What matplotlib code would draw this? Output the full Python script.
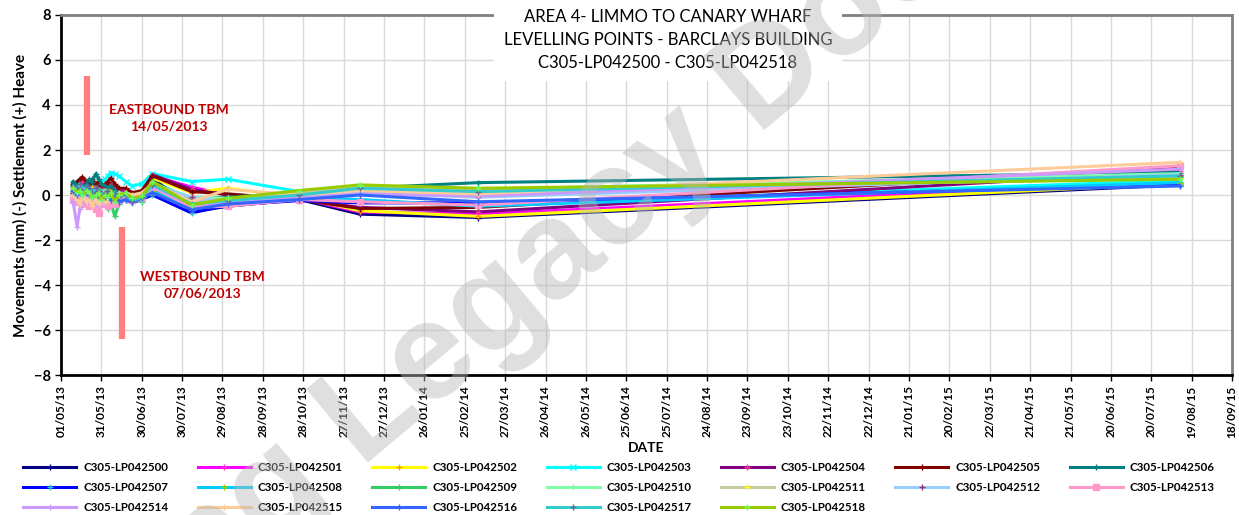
import datetime as dt

import matplotlib
matplotlib.use("Agg")
import matplotlib.dates as mdates
import matplotlib.pyplot as plt

# reading dates
dates = [
    "2013-05-10", "2013-05-13", "2013-05-15", "2013-05-17", "2013-05-20",
    "2013-05-22", "2013-05-24", "2013-05-27", "2013-05-29", "2013-05-31",
    "2013-06-03", "2013-06-05", "2013-06-07", "2013-06-10", "2013-06-13",
    "2013-06-18", "2013-06-23", "2013-06-30", "2013-07-08", "2013-08-06",
    "2013-09-02", "2013-10-25", "2013-12-09", "2014-03-07", "2015-08-10",
]

point_names = ["C305-LP0425%02d" % i for i in range(19)]

# movements (mm), one list per levelling point
lp500 = [0.1, 0.3, 0.2, 0.4, 0.3, 0.2, 0.5, 0.3, 0.2, 0.4, 0.3, 0.1, 0.2, 0.1, 0.0, 0.1, -0.3, -0.1, 0.8, -0.75, -0.5, -0.2, -0.85, -1.0, 0.45]
lp501 = [0.3, 0.2, 0.4, 0.5, 0.3, 0.4, 0.2, 0.4, 0.3, 0.5, 0.2, 0.3, 0.4, 0.2, 0.1, 0.2, -0.1, 0.0, 0.85, 0.35, 0.0, -0.15, -0.75, -0.85, 0.6]
lp502 = [0.2, 0.1, 0.3, 0.2, 0.4, 0.1, 0.3, 0.2, 0.1, 0.3, 0.2, 0.0, 0.2, 0.1, 0.2, 0.0, -0.2, -0.1, 0.75, 0.1, 0.3, -0.1, -0.7, -0.95, 0.5]
lp503 = [0.3, 0.4, 0.2, 0.5, 0.3, 0.4, 0.3, 0.5, 0.4, 0.6, 0.7, 0.85, 1.0, 0.95, 0.85, 0.6, 0.4, 0.5, 0.95, 0.6, 0.7, 0.15, -0.3, -0.45, 0.65]
lp504 = [0.4, 0.5, 0.3, 0.6, 0.4, 0.5, 0.4, 0.3, 0.5, 0.4, 0.3, 0.4, 0.5, 0.3, 0.2, 0.1, 0.0, 0.1, 0.9, 0.25, 0.0, -0.2, -0.55, -0.75, 1.05]
lp505 = [0.5, 0.6, 0.7, 0.8, 0.6, 0.5, 0.7, 0.5, 0.6, 0.4, 0.5, 0.6, 0.75, 0.5, 0.3, 0.3, 0.1, 0.2, 0.85, 0.15, 0.05, -0.2, -0.6, -0.55, 1.2]
lp506 = [0.6, 0.4, 0.5, 0.3, 0.5, 0.7, 0.6, 0.95, 0.7, 0.5, 0.4, 0.3, 0.4, 0.2, 0.1, 0.0, -0.2, -0.1, 0.6, -0.2, -0.1, 0.1, 0.3, 0.55, 1.0]
lp507 = [0.2, 0.1, 0.3, 0.2, 0.1, 0.3, 0.2, 0.0, 0.2, 0.1, 0.0, -0.1, 0.1, -0.2, -0.1, -0.2, -0.35, -0.2, 0.0, -0.8, -0.45, -0.25, -0.35, -0.35, 0.45]
lp508 = [0.0, 0.2, 0.1, 0.3, 0.0, 0.2, 0.1, 0.3, 0.0, 0.2, 0.1, 0.0, -0.1, 0.0, -0.2, -0.1, -0.3, -0.2, 0.2, -0.6, -0.3, -0.1, -0.2, -0.5, 0.55]
lp509 = [0.1, 0.0, 0.2, -0.1, 0.1, 0.0, -0.3, 0.1, -0.2, 0.0, -0.4, -0.6, -0.3, -0.95, -0.4, -0.2, -0.1, -0.3, 0.3, -0.5, -0.2, 0.0, 0.2, 0.1, 0.8]
lp510 = [0.3, 0.2, 0.4, 0.1, 0.3, 0.2, 0.0, 0.2, 0.1, -0.1, 0.2, 0.0, 0.1, -0.2, 0.1, 0.0, -0.2, -0.2, 0.5, -0.1, -0.15, 0.1, 0.35, 0.25, 0.95]
lp511 = [0.2, 0.3, 0.1, 0.2, 0.0, 0.1, 0.3, 0.1, 0.2, 0.0, 0.1, 0.2, 0.0, 0.1, 0.0, 0.1, -0.1, 0.0, 0.55, -0.3, -0.2, 0.1, 0.4, 0.2, 0.75]
lp512 = [0.1, -0.1, 0.0, 0.2, -0.2, 0.0, 0.1, -0.1, 0.0, -0.2, 0.1, -0.1, 0.0, -0.1, -0.2, 0.0, -0.2, -0.1, 0.45, -0.1, -0.3, -0.05, 0.1, -0.1, 0.9]
lp513 = [-0.2, -0.3, -0.1, -0.4, -0.2, -0.5, -0.3, -0.6, -0.8, -0.4, -0.2, -0.5, -0.3, -0.4, -0.2, -0.1, -0.2, -0.1, 0.35, -0.55, -0.5, -0.2, -0.3, -0.45, 1.3]
lp514 = [-0.3, -1.4, -0.6, -0.4, -0.2, -0.3, -0.1, -0.3, -0.5, -0.2, -0.3, -0.1, -0.2, 0.0, -0.1, 0.0, -0.1, 0.0, 0.4, -0.45, -0.35, -0.1, 0.05, -0.05, 1.15]
lp515 = [0.0, -0.2, -0.4, -0.1, -0.3, -0.1, -0.5, -0.2, -0.4, -0.1, -0.3, -0.2, 0.0, -0.3, -0.1, 0.1, 0.0, 0.1, 0.5, -0.3, 0.25, 0.0, 0.2, 0.05, 1.45]
lp516 = [0.2, 0.0, 0.1, 0.3, 0.1, 0.0, 0.2, 0.1, 0.0, 0.1, -0.1, 0.0, -0.2, -0.1, -0.3, -0.2, -0.3, -0.15, 0.1, -0.65, -0.4, -0.2, 0.0, -0.3, 0.4]
lp517 = [0.4, 0.3, 0.5, 0.2, 0.4, 0.3, 0.1, 0.3, 0.2, 0.0, 0.1, 0.2, 0.0, 0.1, -0.1, 0.0, -0.25, -0.1, 0.45, -0.4, -0.25, 0.0, 0.3, 0.15, 0.85]
lp518 = [0.3, 0.1, 0.2, 0.0, 0.2, 0.1, -0.1, 0.0, 0.1, -0.2, 0.0, -0.1, 0.1, -0.3, 0.0, 0.1, -0.15, -0.05, 0.6, -0.45, -0.15, 0.2, 0.45, 0.3, 0.7]

series = [lp500, lp501, lp502, lp503, lp504, lp505, lp506, lp507, lp508, lp509,
          lp510, lp511, lp512, lp513, lp514, lp515, lp516, lp517, lp518]

line_colors = ["#000080", "#FF00FF", "#FFFF00", "#00FFFF", "#800080", "#800000",
               "#008080", "#0000FF", "#00CCFF", "#33CC66", "#80FFA8", "#C8C8A0",
               "#99CCFF", "#FF99CC", "#CC99FF", "#FFCC99", "#3366FF", "#33CCCC",
               "#99CC00"]
marker_colors = ["#000080", "#FF33CC", "#FF9900", "#00FFFF", "#FF3399", "#800000",
                 "#008080", "#33CCCC", "#99CC00", "#33CC66", "#80FFA8", "#FFFF00",
                 "#993366", "#FF99CC", "#CC99FF", "#FFCC99", "#3366FF", "#666699",
                 "#66FF66"]
marker_shapes = ["+", "+", "+", "x", "+", "+", "+", "+", "+", "+",
                 "+", "+", "+", "s", "+", "+", "+", "+", "+"]

# TBM passage markers
tbm_dates = ["2013-05-20", "2013-06-15"]
tbm_ranges = [(1.8, 5.3), (-6.4, -1.4)]
tbm_labels = ["EASTBOUND TBM\n14/05/2013", "WESTBOUND TBM\n07/06/2013"]

x_start = dt.date(2013, 5, 1)
x_end = dt.date(2015, 9, 18)

plt.rcParams["font.family"] = ["Lato", "DejaVu Sans"]
plt.rcParams["font.weight"] = "bold"

fig = plt.figure(figsize=(12.39, 5.15), dpi=100)
ax = fig.add_axes([0.0492, 0.2718, 0.9452, 0.6991])

x = [dt.date.fromisoformat(d) for d in dates]
handles = []
for vals, name, c, mc, mk in zip(series, point_names, line_colors, marker_colors, marker_shapes):
    (h,) = ax.plot(x, vals, color=c, lw=2.2, marker=mk, ms=4, mec=mc, mfc=mc,
                   mew=1.0, label=name, zorder=3)
    handles.append(h)

for d, (lo, hi) in zip(tbm_dates, tbm_ranges):
    xd = dt.date.fromisoformat(d)
    ax.plot([xd, xd], [lo, hi], color="#FF7F7F", lw=4.5, solid_capstyle="butt", zorder=2)

ax.text(dt.date(2013, 7, 20), 3.42, tbm_labels[0], ha="center", va="center",
        color="#C00000", fontsize=10, fontweight="bold", linespacing=1.4)
ax.text(dt.date(2013, 8, 14), -4.0, tbm_labels[1], ha="center", va="center",
        color="#C00000", fontsize=10, fontweight="bold", linespacing=1.4)

ax.set_xlim(x_start, x_end)
ax.set_ylim(-8, 8)
ticks = [x_start + dt.timedelta(days=30 * i) for i in range(30)]
ax.set_xticks(ticks)
ax.xaxis.set_major_formatter(mdates.DateFormatter("%d/%m/%y"))
ax.set_yticks(range(-8, 9, 2))
ax.tick_params(axis="x", labelrotation=90, labelsize=8.5, length=4, width=1)
ax.tick_params(axis="y", labelsize=10.5, length=4, width=1)
ax.grid(True, color="#D9D9D9", lw=1)
ax.set_axisbelow(True)

for s in ("left", "bottom"):
    ax.spines[s].set_linewidth(2)
    ax.spines[s].set_color("black")
for s in ("top", "right"):
    ax.spines[s].set_linewidth(2)
    ax.spines[s].set_color("#808080")

ax.set_ylabel("Movements (mm) (-) Settlement (+) Heave", fontsize=11,
              fontweight="bold", labelpad=4)
ax.set_xlabel("DATE", fontsize=10, fontweight="bold", labelpad=3)

fig.text(668 / 1239, 1 - 40 / 515,
         "AREA 4- LIMMO TO CANARY WHARF\nLEVELLING POINTS - BARCLAYS BUILDING\nC305-LP042500 - C305-LP042518",
         ha="center", va="center", fontsize=12, fontweight="normal",
         linespacing=1.55, zorder=20,
         bbox=dict(fc="white", ec="none", pad=7))

# legend laid out row by row
ncol = 7
order = [i for c in range(ncol) for i in range(c, len(handles), ncol)]
fig.legend([handles[i] for i in order], [point_names[i] for i in order],
           loc="upper left", bbox_to_anchor=(0.015, 0.112), ncol=ncol,
           frameon=False, fontsize=8.3, handlelength=4.6, handletextpad=0.6,
           columnspacing=2.55, labelspacing=0.78, borderaxespad=0)

fig.text(0.45, 0.50, "Learning Legacy Document", rotation=40,
         fontsize=100, family="Liberation Sans", color="#B8B8B8", alpha=0.45,
         ha="center", va="center", zorder=30)

fig.savefig("out.png", dpi=100)
